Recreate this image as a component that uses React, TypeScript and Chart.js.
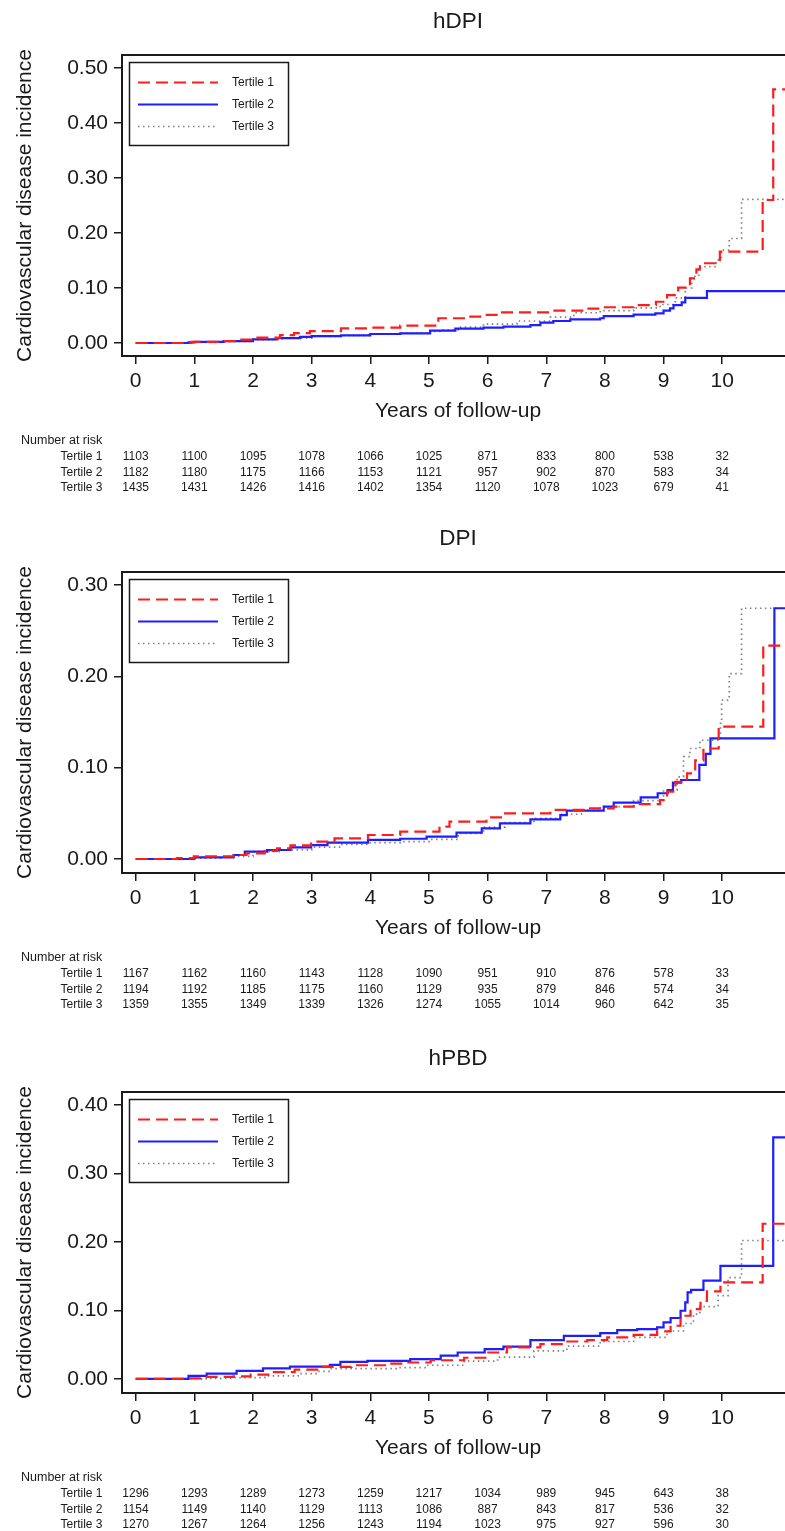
import React, { useEffect, useRef } from 'react';
import { Chart, registerables } from 'chart.js';

Chart.register(...registerables);

// ---------------- DATA ----------------
const yearTicks = [0, 1, 2, 3, 4, 5, 6, 7, 8, 9, 10];
const seriesLabels = ['Tertile 1', 'Tertile 2', 'Tertile 3'];

// hDPI — [years, cumulative incidence]
const hdpiT1 = [[0, 0], [0.95, 0.002], [1.5, 0.0035], [1.8, 0.006], [2.0, 0.0097], [2.46, 0.0145], [2.7, 0.018], [2.97, 0.0218], [3.5, 0.0267], [4.0, 0.0279], [4.51, 0.0315], [5.16, 0.045], [5.65, 0.048], [5.93, 0.051], [6.21, 0.0558], [7.07, 0.0588], [7.69, 0.0624], [8.0, 0.065], [8.49, 0.069], [8.87, 0.075], [9.06, 0.087], [9.25, 0.1006], [9.45, 0.1176], [9.56, 0.134], [9.62, 0.145], [9.96, 0.166], [10.69, 0.26], [10.87, 0.461], [11.3, 0.461]];
const hdpiT2 = [[0, 0], [0.9, 0.001], [1.0, 0.002], [1.5, 0.0035], [2.0, 0.0067], [2.4, 0.009], [2.8, 0.011], [3.0, 0.0127], [3.5, 0.014], [4.0, 0.0164], [4.51, 0.0176], [5.02, 0.0224], [5.45, 0.026], [5.93, 0.028], [6.27, 0.0297], [6.73, 0.0327], [6.9, 0.037], [7.12, 0.04], [7.41, 0.043], [7.92, 0.045], [7.98, 0.049], [8.49, 0.0515], [8.86, 0.054], [9.0, 0.059], [9.11, 0.063], [9.17, 0.069], [9.31, 0.074], [9.37, 0.082], [9.74, 0.0945], [11.3, 0.0945]];
const hdpiT3 = [[0, 0], [1.0, 0.001], [1.5, 0.003], [2.0, 0.006], [2.5, 0.009], [3.0, 0.012], [3.5, 0.014], [4.0, 0.016], [4.5, 0.018], [5.0, 0.021], [5.2, 0.024], [5.5, 0.029], [5.93, 0.0345], [6.5, 0.04], [7.07, 0.047], [7.47, 0.055], [7.92, 0.059], [8.49, 0.064], [8.94, 0.07], [9.2, 0.082], [9.37, 0.1], [9.48, 0.121], [9.6, 0.139], [9.9, 0.151], [9.98, 0.169], [10.12, 0.19], [10.33, 0.261], [11.3, 0.261]];

// DPI
const dpiT1 = [[0, 0], [0.7, 0.001], [0.99, 0.003], [1.67, 0.0044], [1.89, 0.0062], [2.2, 0.009], [2.41, 0.0117], [2.64, 0.015], [2.99, 0.019], [3.39, 0.0226], [3.96, 0.0263], [4.51, 0.03], [5.18, 0.0354], [5.35, 0.041], [5.98, 0.0456], [6.27, 0.05], [7.07, 0.0537], [7.69, 0.0555], [8.15, 0.0573], [8.49, 0.0602], [8.94, 0.0646], [9.06, 0.0737], [9.2, 0.0846], [9.4, 0.0938], [9.54, 0.108], [9.68, 0.121], [9.94, 0.145], [10.7, 0.2336], [11.3, 0.2336]];
const dpiT2 = [[0, 0], [1.0, 0.0019], [1.67, 0.0044], [1.86, 0.008], [2.24, 0.0099], [2.64, 0.0128], [2.99, 0.0153], [3.27, 0.018], [3.96, 0.021], [4.51, 0.0222], [4.96, 0.0245], [5.47, 0.0288], [5.9, 0.0336], [6.21, 0.039], [6.73, 0.0434], [7.24, 0.048], [7.35, 0.0529], [7.98, 0.0573], [8.15, 0.0617], [8.61, 0.0675], [8.9, 0.072], [9.07, 0.0755], [9.16, 0.0836], [9.3, 0.0865], [9.61, 0.103], [9.72, 0.115], [9.8, 0.132], [10.89, 0.2745], [11.3, 0.2745]];
const dpiT3 = [[0, 0], [1.0, 0.001], [1.5, 0.003], [2.0, 0.008], [2.5, 0.01], [3.0, 0.013], [3.5, 0.016], [4.0, 0.018], [4.51, 0.019], [5.0, 0.0215], [5.5, 0.028], [5.93, 0.035], [6.3, 0.04], [6.79, 0.0445], [7.24, 0.049], [7.6, 0.053], [7.92, 0.0573], [8.49, 0.064], [9.0, 0.0755], [9.23, 0.09], [9.34, 0.112], [9.45, 0.121], [9.62, 0.13], [9.97, 0.1485], [9.99, 0.174], [10.12, 0.203], [10.33, 0.2745], [11.3, 0.2745]];

// hPBD
const hpbdT1 = [[0, 0], [0.84, 0.001], [1.11, 0.003], [1.67, 0.0039], [1.96, 0.0063], [2.3, 0.01], [2.71, 0.0137], [3.17, 0.0176], [3.68, 0.02], [4.3, 0.0225], [4.6, 0.024], [5.03, 0.0273], [5.6, 0.031], [5.99, 0.0386], [6.33, 0.046], [6.9, 0.051], [7.3, 0.0547], [7.7, 0.0567], [8.04, 0.0606], [8.49, 0.0645], [8.89, 0.0694], [9.12, 0.0777], [9.29, 0.0923], [9.46, 0.102], [9.63, 0.114], [9.74, 0.128], [9.97, 0.141], [10.69, 0.2266], [11.3, 0.2266]];
const hpbdT2 = [[0, 0], [0.9, 0.0044], [1.21, 0.0078], [1.72, 0.0117], [2.17, 0.0156], [2.63, 0.018], [3.31, 0.0205], [3.49, 0.025], [3.95, 0.0264], [4.68, 0.029], [5.2, 0.034], [5.49, 0.0386], [5.95, 0.0435], [6.27, 0.0473], [6.73, 0.0567], [7.3, 0.063], [7.92, 0.067], [8.21, 0.0713], [8.55, 0.0728], [8.89, 0.0752], [9.0, 0.0825], [9.12, 0.089], [9.29, 0.0996], [9.37, 0.1118], [9.41, 0.1265], [9.47, 0.13], [9.68, 0.1436], [9.97, 0.165], [10.87, 0.3527], [11.3, 0.3527]];
const hpbdT3 = [[0, 0], [1.2, 0.001], [1.67, 0.002], [2.2, 0.0044], [2.77, 0.0078], [3.1, 0.011], [3.31, 0.0151], [4.44, 0.0166], [4.98, 0.02], [5.6, 0.026], [6.17, 0.032], [6.79, 0.041], [7.35, 0.048], [7.92, 0.0547], [8.49, 0.0606], [9.06, 0.07], [9.34, 0.081], [9.51, 0.0948], [9.62, 0.1055], [9.93, 0.1216], [10.1, 0.148], [10.33, 0.2022], [11.3, 0.2022]];

// Number at risk
const hdpiRiskT1 = [1103, 1100, 1095, 1078, 1066, 1025, 871, 833, 800, 538, 32];
const hdpiRiskT2 = [1182, 1180, 1175, 1166, 1153, 1121, 957, 902, 870, 583, 34];
const hdpiRiskT3 = [1435, 1431, 1426, 1416, 1402, 1354, 1120, 1078, 1023, 679, 41];
const dpiRiskT1 = [1167, 1162, 1160, 1143, 1128, 1090, 951, 910, 876, 578, 33];
const dpiRiskT2 = [1194, 1192, 1185, 1175, 1160, 1129, 935, 879, 846, 574, 34];
const dpiRiskT3 = [1359, 1355, 1349, 1339, 1326, 1274, 1055, 1014, 960, 642, 35];
const hpbdRiskT1 = [1296, 1293, 1289, 1273, 1259, 1217, 1034, 989, 945, 643, 38];
const hpbdRiskT2 = [1154, 1149, 1140, 1129, 1113, 1086, 887, 843, 817, 536, 32];
const hpbdRiskT3 = [1270, 1267, 1264, 1256, 1243, 1194, 1023, 975, 927, 596, 30];

const hdpiYTicks = [0, 0.1, 0.2, 0.3, 0.4, 0.5];
const dpiYTicks = [0, 0.1, 0.2, 0.3];
const hpbdYTicks = [0, 0.1, 0.2, 0.3, 0.4];

// ---------------- LAYOUT / STYLE ----------------
const FONT = '"Liberation Sans", Arial, Helvetica, sans-serif';
const CANVAS_W = 830;
const CANVAS_H = 512;
const AREA_LEFT = 122;
const AREA_TOP = 55;
const AREA_BOTTOM = 356;
const X0_PX = 135.7;
const PX_PER_YEAR = 58.65;
const X_MIN = -(X0_PX - AREA_LEFT) / PX_PER_YEAR;
const X_MAX = X_MIN + (CANVAS_W - AREA_LEFT) / PX_PER_YEAR;
const INK = '#1a1a1a';

const panels = [
  { title: 'hDPI', top: 0, yMin: -0.0236, yMax: 0.5236, yTicks: hdpiYTicks, series: [hdpiT1, hdpiT2, hdpiT3], risk: [hdpiRiskT1, hdpiRiskT2, hdpiRiskT3] },
  { title: 'DPI', top: 517, yMin: -0.0153, yMax: 0.3142, yTicks: dpiYTicks, series: [dpiT1, dpiT2, dpiT3], risk: [dpiRiskT1, dpiRiskT2, dpiRiskT3] },
  { title: 'hPBD', top: 1037, yMin: -0.0205, yMax: 0.419, yTicks: hpbdYTicks, series: [hpbdT1, hpbdT2, hpbdT3], risk: [hpbdRiskT1, hpbdRiskT2, hpbdRiskT3] },
];

const seriesStyles = [
  { borderColor: '#ff1c1c', borderDash: [12, 6], borderWidth: 2.2 },
  { borderColor: '#1e1eff', borderDash: [], borderWidth: 2.2 },
  { borderColor: '#808080', borderDash: [1.5, 3.5], borderWidth: 1.7 },
];

function makeDecorPlugin(panel: any) {
  return {
    id: 'kmDecor',
    afterDraw(chart: any) {
      const ctx = chart.ctx;
      const area = chart.chartArea;
      const xs = chart.scales.x;
      ctx.save();
      // top frame line
      ctx.strokeStyle = INK;
      ctx.lineWidth = 2;
      ctx.beginPath();
      ctx.moveTo(area.left - 1, area.top);
      ctx.lineTo(area.right, area.top);
      ctx.stroke();

      // title
      const cx = 458;
      ctx.fillStyle = INK;
      ctx.textAlign = 'center';
      ctx.textBaseline = 'middle';
      ctx.font = `22.5px ${FONT}`;
      ctx.fillText(panel.title, cx, 22);

      // x title
      ctx.font = `21px ${FONT}`;
      ctx.fillText('Years of follow-up', cx, 411);

      // y title
      ctx.save();
      ctx.translate(25, (AREA_TOP + AREA_BOTTOM) / 2);
      ctx.rotate(-Math.PI / 2);
      ctx.font = `21px ${FONT}`;
      ctx.fillText('Cardiovascular disease incidence', 0, 0);
      ctx.restore();

      // legend
      const bx = area.left + 7.5;
      const by = area.top + 7.5;
      const bw = 159;
      const bh = 83;
      ctx.fillStyle = '#ffffff';
      ctx.fillRect(bx, by, bw, bh);
      ctx.strokeStyle = INK;
      ctx.lineWidth = 1.5;
      ctx.strokeRect(bx, by, bw, bh);
      chart.data.datasets.forEach((ds: any, i: number) => {
        const ly = by + 20 + i * 22;
        ctx.save();
        ctx.strokeStyle = ds.borderColor;
        ctx.lineWidth = ds.borderWidth;
        ctx.setLineDash(ds.borderDash || []);
        ctx.beginPath();
        ctx.moveTo(bx + 8.5, ly);
        ctx.lineTo(bx + 88.5, ly);
        ctx.stroke();
        ctx.restore();
        ctx.fillStyle = INK;
        ctx.textAlign = 'left';
        ctx.textBaseline = 'middle';
        ctx.font = `12px ${FONT}`;
        ctx.fillText(ds.label, bx + 102.5, ly);
      });

      // number at risk table
      ctx.fillStyle = INK;
      ctx.font = `12.5px ${FONT}`;
      ctx.textBaseline = 'middle';
      ctx.textAlign = 'left';
      ctx.fillText('Number at risk', 21, 441);
      ctx.font = `12px ${FONT}`;
      panel.risk.forEach((row: number[], r: number) => {
        const y = 457 + r * 15.5;
        ctx.textAlign = 'right';
        ctx.fillText(seriesLabels[r], 102.5, y);
        ctx.textAlign = 'center';
        row.forEach((n, k) => {
          ctx.fillText(String(n), xs.getPixelForValue(yearTicks[k]), y);
        });
      });
      ctx.restore();
    },
  };
}

function Panel({ panel }: { panel: any }) {
  const ref = useRef<HTMLCanvasElement | null>(null);
  useEffect(() => {
    if (!ref.current) return;
    const datasets = panel.series.map((pts: number[][], i: number) => ({
      label: seriesLabels[i],
      data: pts.map((p) => ({ x: p[0], y: p[1] })),
      stepped: true,
      pointRadius: 0,
      pointHoverRadius: 0,
      fill: false,
      borderCapStyle: 'butt',
      ...seriesStyles[i],
    }));
    const chart = new Chart(ref.current, {
      type: 'line',
      data: { datasets },
      options: {
        responsive: false,
        animation: false,
        devicePixelRatio: 1,
        layout: { padding: { top: AREA_TOP, left: 0, right: 0, bottom: 0 } },
        plugins: { legend: { display: false }, tooltip: { enabled: false }, title: { display: false } },
        scales: {
          x: {
            type: 'linear',
            min: X_MIN,
            max: X_MAX,
            afterBuildTicks: (s: any) => { s.ticks = yearTicks.map((v) => ({ value: v })); },
            afterFit: (s: any) => { s.height = CANVAS_H - AREA_BOTTOM; },
            grid: { drawOnChartArea: false, drawTicks: true, tickLength: 8, color: INK, lineWidth: 1.5 },
            border: { display: true, color: INK, width: 2 },
            ticks: {
              color: INK,
              font: { family: FONT, size: 21 },
              padding: 5,
              maxRotation: 0,
              autoSkip: false,
              callback: (v: any) => String(v),
            },
          },
          y: {
            type: 'linear',
            min: panel.yMin,
            max: panel.yMax,
            afterBuildTicks: (s: any) => { s.ticks = panel.yTicks.map((v: number) => ({ value: v })); },
            afterFit: (s: any) => { s.width = AREA_LEFT; },
            grid: { drawOnChartArea: false, drawTicks: true, tickLength: 8, color: INK, lineWidth: 1.5 },
            border: { display: true, color: INK, width: 2 },
            ticks: {
              color: INK,
              font: { family: FONT, size: 21 },
              padding: 6,
              autoSkip: false,
              callback: (v: any) => Number(v).toFixed(2),
            },
          },
        },
      },
      plugins: [makeDecorPlugin(panel)],
    } as any);
    return () => chart.destroy();
  }, [panel]);
  return (
    <canvas
      ref={ref}
      width={CANVAS_W}
      height={CANVAS_H}
      style={{ position: 'absolute', left: 0, top: panel.top, width: CANVAS_W, height: CANVAS_H, display: 'block' }}
    />
  );
}

export default function App() {
  return (
    <div style={{ position: 'absolute', left: 0, top: 0, width: 785, height: 1531, overflow: 'hidden', background: '#ffffff' }}>
      {panels.map((p) => (
        <Panel key={p.title} panel={p} />
      ))}
    </div>
  );
}
